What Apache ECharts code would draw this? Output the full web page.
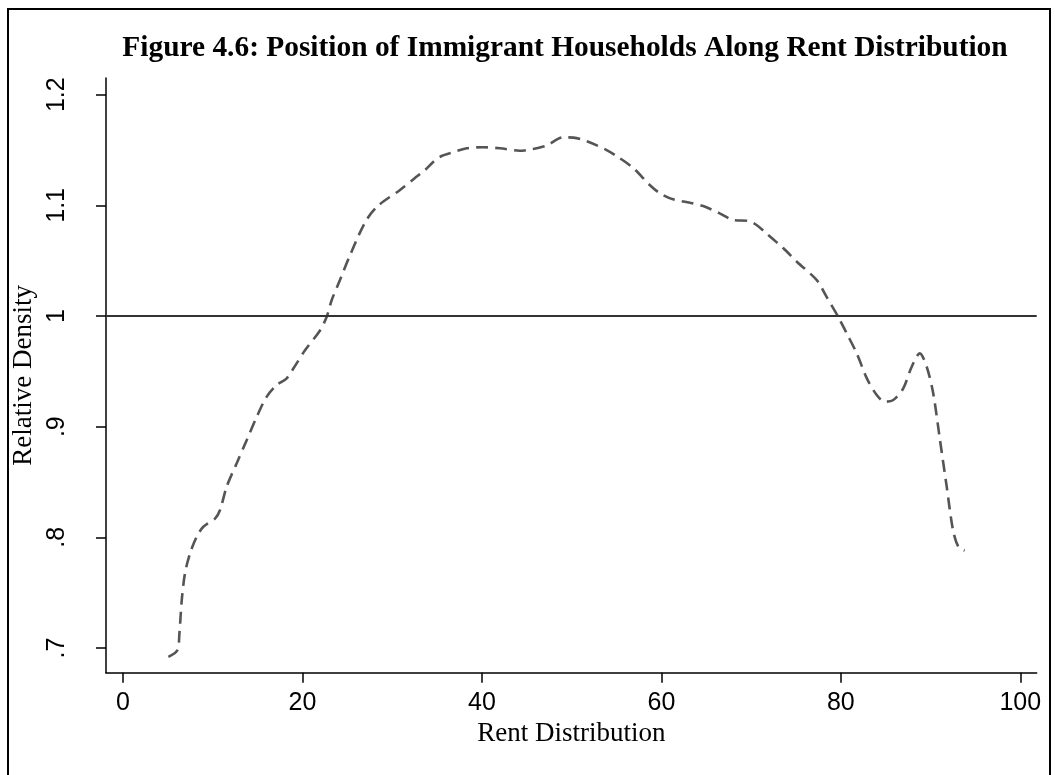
<!DOCTYPE html>
<html>
<head>
<meta charset="utf-8">
<script src="https://cdn.jsdelivr.net/npm/echarts@6/dist/echarts.min.js"></script>
<style>html,body{margin:0;padding:0;background:#fff}#c{width:1055px;height:775px}</style>
</head>
<body>
<div id="c"></div>
<script>
const titleText = 'Figure 4.6: Position of Immigrant Households Along Rent Distribution';
const xTicks = [0, 20, 40, 60, 80, 100];
const yTicks = [0.7, 0.8, 0.9, 1.0, 1.1, 1.2];
const yTickLabels = {'0.7': '.7', '0.8': '.8', '0.9': '.9', '1': '1', '1.1': '1.1', '1.2': '1.2'};
const rentX = [5.05, 6.05, 6.28, 6.54, 6.9, 7.47, 8.21, 8.95, 10.25, 10.81, 11.55, 12.67, 13.79, 14.9, 16.0, 17.13, 18.24, 19.0, 20.28, 21.95, 22.7, 23.26, 24.2, 25.3, 27.0, 28.4, 30.87, 32.5, 33.66, 34.6, 35.5, 36.4, 38.3, 40.15, 42.0, 44.2, 45.7, 47.2, 49.07, 50.2, 51.7, 53.9, 55.0, 56.9, 58.7, 59.85, 61.3, 63.2, 64.67, 66.5, 68.0, 69.7, 70.6, 71.7, 73.6, 75.1, 77.3, 78.4, 79.7, 80.65, 81.77, 82.9, 84.0, 84.92, 85.85, 86.96, 87.9, 88.8, 89.57, 90.3, 91.05, 91.8, 92.5, 93.1, 93.8];
const density = [0.692, 0.698, 0.713, 0.743, 0.7675, 0.7856, 0.8006, 0.8096, 0.817, 0.8247, 0.8458, 0.867, 0.888, 0.909, 0.927, 0.9377, 0.9437, 0.9528, 0.969, 0.987, 0.9994, 1.0145, 1.033, 1.055, 1.085, 1.0995, 1.1139, 1.1245, 1.132, 1.1395, 1.1446, 1.147, 1.1516, 1.1525, 1.1516, 1.1494, 1.151, 1.154, 1.1615, 1.1612, 1.158, 1.15, 1.1446, 1.1335, 1.1184, 1.1109, 1.1055, 1.1024, 1.0994, 1.0928, 1.0868, 1.0859, 1.0823, 1.0748, 1.0612, 1.049, 1.0326, 1.0175, 0.9994, 0.9844, 0.9663, 0.9437, 0.9286, 0.9226, 0.9241, 0.9347, 0.9542, 0.9663, 0.9542, 0.930, 0.888, 0.8458, 0.8066, 0.7915, 0.788];
const refValue = 1;

const chart = echarts.init(document.getElementById('c'), null, {renderer: 'canvas'});
const pts = rentX.map((x, i) => [x, density[i]]);
chart.setOption({
  animation: false,
  backgroundColor: '#fff',
  title: {
    text: titleText, left: 560, textAlign: 'center', top: 29,
    textStyle: {fontFamily: 'Liberation Serif', fontWeight: 'bold', fontSize: 29.4, color: '#000'}
  },
  graphic: [{
    type: 'rect', shape: {x: 8, y: 9, width: 1042, height: 780},
    style: {fill: 'none', stroke: '#000', lineWidth: 2}, silent: true
  }],
  grid: {left: 106, right: 18.3, top: 78, bottom: 102.3, containLabel: false, outerBoundsMode: 'none'},
  xAxis: {
    type: 'value', min: -1.9, max: 101.83,
    name: 'Rent Distribution', nameLocation: 'middle', nameGap: 48,
    nameTextStyle: {fontFamily: 'Liberation Serif', fontSize: 27, color: '#000'},
    axisLine: {show: true, onZero: false, lineStyle: {color: '#000', width: 1.5}},
    axisTick: {show: true, length: 10, customValues: xTicks, lineStyle: {color: '#000', width: 1.5}},
    axisLabel: {customValues: xTicks, margin: 18, fontFamily: 'Liberation Sans', fontSize: 25, color: '#000'},
    splitLine: {show: false}
  },
  yAxis: {
    type: 'value', min: 0.6777, max: 1.2151,
    name: 'Relative Density', nameLocation: 'middle', nameGap: 69, nameRotate: 90,
    nameTextStyle: {fontFamily: 'Liberation Serif', fontSize: 27, color: '#000'},
    axisLine: {show: true, onZero: false, lineStyle: {color: '#000', width: 1.5}},
    axisTick: {show: true, length: 10, customValues: yTicks, lineStyle: {color: '#000', width: 1.5}},
    axisLabel: {customValues: yTicks, rotate: 90, margin: 36, fontFamily: 'Liberation Sans', fontSize: 25, color: '#000',
      formatter: v => yTickLabels[String(Math.round(v * 10) / 10)] || ''},
    splitLine: {show: false}
  },
  series: [{
    type: 'line', data: pts, showSymbol: false, smooth: 0.3,
    lineStyle: {color: '#555', width: 2.6, type: [12, 7]},
    markLine: {
      silent: true, symbol: 'none', label: {show: false},
      lineStyle: {color: '#333', width: 2.2, type: 'solid'},
      data: [{yAxis: refValue}]
    }
  }]
});
</script>
</body>
</html>
